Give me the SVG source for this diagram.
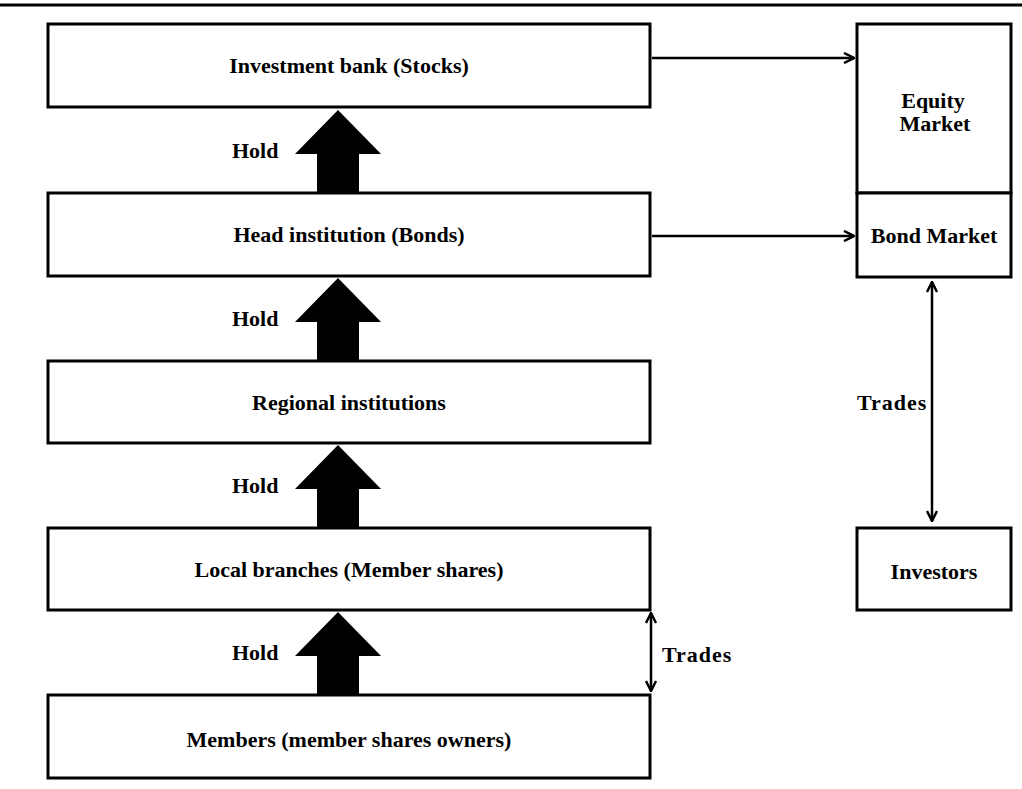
<svg xmlns="http://www.w3.org/2000/svg" width="1022" height="789" viewBox="0 0 1022 789">
<style>
.box{fill:#fff;stroke:#000;stroke-width:3}
.t{font-family:"Liberation Serif",serif;font-weight:bold;font-size:22px;fill:#000}
.c{text-anchor:middle}
.ln{stroke:#000;stroke-width:2.5;fill:none}
.blk{fill:#000}
</style>
<defs>
<marker id="ah" viewBox="0 0 10 10" refX="9" refY="5" markerWidth="5" markerHeight="5" orient="auto-start-reverse" markerUnits="strokeWidth">
<path d="M1,1 L9,5 L1,9" fill="none" stroke="#000" stroke-width="2"/>
</marker>
</defs>
<rect width="1022" height="789" fill="#fff"/>
<line x1="0" y1="5" x2="1022" y2="5" stroke="#000" stroke-width="3"/>
<g id="connectors">
<polygon class="blk" points="338,110 381,154 359,154 359,192 317,192 317,154 295,154"/>
<polygon class="blk" points="338,278 381,322 359,322 359,360 317,360 317,322 295,322"/>
<polygon class="blk" points="338,445 381,489 359,489 359,527 317,527 317,489 295,489"/>
<polygon class="blk" points="338,612 381,656 359,656 359,694 317,694 317,656 295,656"/>
<line class="ln" x1="652" y1="58" x2="854" y2="58" marker-end="url(#ah)"/>
<line class="ln" x1="652" y1="236" x2="854" y2="236" marker-end="url(#ah)"/>
<line class="ln" x1="932" y1="282" x2="932" y2="521" marker-start="url(#ah)" marker-end="url(#ah)"/>
<line class="ln" x1="651" y1="613" x2="651" y2="691" marker-start="url(#ah)" marker-end="url(#ah)"/>
<text class="t" x="232" y="158">Hold</text>
<text class="t" x="232" y="326">Hold</text>
<text class="t" x="232" y="493">Hold</text>
<text class="t" x="232" y="660">Hold</text>
<text class="t" x="857" y="410" letter-spacing="1">Trades</text>
<text class="t" x="662" y="662" letter-spacing="1">Trades</text>
</g>
<g id="investment-bank"><rect class="box" x="48" y="24" width="602" height="83"/><text class="t c" x="349" y="73">Investment bank (Stocks)</text></g>
<g id="head-institution"><rect class="box" x="48" y="193" width="602" height="83"/><text class="t c" x="349" y="242">Head institution (Bonds)</text></g>
<g id="regional"><rect class="box" x="48" y="361" width="602" height="82"/><text class="t c" x="349" y="410">Regional institutions</text></g>
<g id="local-branches"><rect class="box" x="48" y="528" width="602" height="82"/><text class="t c" x="349" y="577">Local branches (Member shares)</text></g>
<g id="members"><rect class="box" x="48" y="695" width="602" height="83"/><text class="t c" x="349" y="747">Members (member shares owners)</text></g>
<g id="equity-market"><rect class="box" x="857" y="24" width="154" height="169"/><text class="t c" x="933" y="108">Equity</text><text class="t c" x="935" y="131">Market</text></g>
<g id="bond-market"><rect class="box" x="857" y="193" width="154" height="84"/><text class="t c" x="934" y="243">Bond Market</text></g>
<g id="investors"><rect class="box" x="857" y="528" width="154" height="82"/><text class="t c" x="934" y="579">Investors</text></g>
</svg>
